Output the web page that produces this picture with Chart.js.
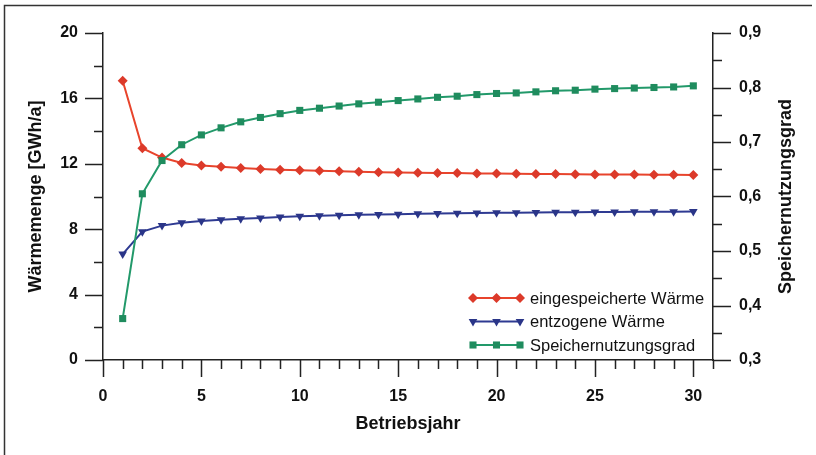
<!DOCTYPE html>
<html>
<head>
<meta charset="utf-8">
<script src="https://cdn.jsdelivr.net/npm/chart.js@4/dist/chart.umd.min.js"></script>
<style>
html,body{margin:0;padding:0;background:#fff;}
canvas{display:block;}
</style>
</head>
<body>
<canvas id="c" width="816" height="455"></canvas>
<script>
// ---- data ----
const years = [1,2,3,4,5,6,7,8,9,10,11,12,13,14,15,16,17,18,19,20,21,22,23,24,25,26,27,28,29,30];
const eingespeicherteWaerme = [17.08,12.95,12.38,12.05,11.90,11.82,11.75,11.68,11.63,11.60,11.57,11.54,11.51,11.49,11.47,11.45,11.44,11.43,11.41,11.40,11.39,11.38,11.37,11.36,11.35,11.35,11.34,11.33,11.33,11.31];
const entzogeneWaerme = [6.48,7.85,8.22,8.40,8.50,8.58,8.64,8.69,8.74,8.79,8.82,8.85,8.88,8.90,8.92,8.94,8.96,8.97,8.99,9.00,9.01,9.02,9.03,9.04,9.05,9.05,9.06,9.07,9.07,9.08];
const speichernutzungsgrad = [0.376,0.605,0.666,0.695,0.713,0.726,0.737,0.745,0.752,0.758,0.762,0.766,0.770,0.773,0.776,0.779,0.782,0.784,0.787,0.789,0.790,0.792,0.794,0.795,0.797,0.798,0.799,0.800,0.801,0.803];

const seriesNames = ['eingespeicherte Wärme','entzogene Wärme','Speichernutzungsgrad'];
const xTickLabels = ['0','5','10','15','20','25','30'];
const yLeftTickLabels = ['0','4','8','12','16','20'];
const yRightTickLabels = ['0,3','0,4','0,5','0,6','0,7','0,8','0,9'];
const xTitle = 'Betriebsjahr';
const yLeftTitle = 'Wärmemenge [GWh/a]';
const yRightTitle = 'Speichernutzungsgrad';

const RED = '#e8442c', RED_PT = '#dc3a2a';
const BLUE = '#2e3a92', BLUE_PT = '#2a3588';
const GREEN = '#22996a', GREEN_PT = '#1f8c5e';
const AXIS = '#222222';
const TICKFONT = {family: "'Liberation Sans', Arial, sans-serif", size: 16, weight: 'bold'};

function pts(arr){ return years.map((x,i)=>({x:x, y:arr[i]})); }

const near = (a,b)=>Math.abs(a-b)<1e-6;

const extras = {
  id: 'extras',
  afterDraw(chart){
    const ctx = chart.ctx;
    const ca = chart.chartArea;
    const sx = chart.scales.x, sl = chart.scales.y, sr = chart.scales.y1;
    ctx.save();
    // frame
    ctx.strokeStyle = '#333';
    ctx.lineWidth = 1.5;
    ctx.beginPath();
    ctx.moveTo(4.5, 455);
    ctx.lineTo(4.5, 5.5);
    ctx.lineTo(812, 5.5);
    ctx.stroke();
    // tick marks
    ctx.strokeStyle = AXIS;
    ctx.lineWidth = 1.5;
    ctx.beginPath();
    sx.ticks.forEach(t=>{
      const p = Math.round(sx.getPixelForValue(t.value)) + 0.5;
      const len = (t.value % 5 === 0) ? 17 : 9;
      ctx.moveTo(p, ca.bottom); ctx.lineTo(p, ca.bottom + len);
    });
    sl.ticks.forEach(t=>{
      const p = Math.round(sl.getPixelForValue(t.value)) + 0.5;
      const len = (t.value % 4 === 0) ? 18 : 9;
      ctx.moveTo(ca.left, p); ctx.lineTo(ca.left - len, p);
    });
    sr.ticks.forEach(t=>{
      const p = Math.round(sr.getPixelForValue(t.value)) + 0.5;
      const v10 = t.value * 10;
      const len = near(v10, Math.round(v10)) ? 18 : 9;
      ctx.moveTo(ca.right, p); ctx.lineTo(ca.right + len, p);
    });
    ctx.stroke();

    // axis titles
    ctx.fillStyle = '#111';
    ctx.font = "bold 18px 'Liberation Sans', Arial, sans-serif";
    ctx.textAlign = 'center';
    ctx.textBaseline = 'middle';
    ctx.fillText(xTitle, (ca.left + ca.right)/2, 424);
    ctx.save();
    ctx.translate(36, (ca.top + ca.bottom)/2);
    ctx.rotate(-Math.PI/2);
    ctx.fillText(yLeftTitle, 0, 0);
    ctx.restore();
    ctx.save();
    ctx.translate(786, (ca.top + ca.bottom)/2);
    ctx.rotate(-Math.PI/2);
    ctx.fillText(yRightTitle, 0, 0);
    ctx.restore();

    // legend
    const rows = [298, 321.5, 345];
    const x0 = 473, x1 = 520;
    ctx.font = "16.5px 'Liberation Sans', Arial, sans-serif";
    ctx.textAlign = 'left';
    ctx.textBaseline = 'middle';
    chart.data.datasets.forEach((ds, i)=>{
      const y = rows[i];
      ctx.strokeStyle = ds.borderColor;
      ctx.lineWidth = ds.borderWidth;
      ctx.beginPath(); ctx.moveTo(x0, y); ctx.lineTo(x1, y); ctx.stroke();
      [x0, (x0+x1)/2, x1].forEach(px=>{
        ctx.fillStyle = ds.pointBackgroundColor;
        ctx.strokeStyle = ds.pointBackgroundColor;
        Chart.helpers.drawPoint(ctx, {
          pointStyle: ds.pointStyle, radius: ds.pointRadius, rotation: ds.pointRotation || 0, borderWidth: 0
        }, px, y);
      });
      ctx.fillStyle = '#111';
      ctx.fillText(ds.label, 530, y + 1);
    });
    ctx.restore();
  }
};

new Chart(document.getElementById('c'), {
  type: 'line',
  data: {
    datasets: [
      {label: seriesNames[0], data: pts(eingespeicherteWaerme), yAxisID: 'y',
       borderColor: RED, borderWidth: 2, pointStyle: 'rectRot', pointRadius: 5,
       pointBackgroundColor: RED_PT, pointBorderColor: RED_PT, pointBorderWidth: 0, order: 2},
      {label: seriesNames[1], data: pts(entzogeneWaerme), yAxisID: 'y',
       borderColor: BLUE, borderWidth: 2, pointStyle: 'triangle', pointRotation: 180, pointRadius: 5,
       pointBackgroundColor: BLUE_PT, pointBorderColor: BLUE_PT, pointBorderWidth: 0, order: 3},
      {label: seriesNames[2], data: pts(speichernutzungsgrad), yAxisID: 'y1',
       borderColor: GREEN, borderWidth: 2, pointStyle: 'rect', pointRadius: 5,
       pointBackgroundColor: GREEN_PT, pointBorderColor: GREEN_PT, pointBorderWidth: 0, order: 1}
    ]
  },
  options: {
    responsive: false,
    animation: false,
    devicePixelRatio: 1,
    layout: {padding: {top: 33, left: 0, right: 0, bottom: 0}},
    plugins: {legend: {display: false}, tooltip: {enabled: false}},
    elements: {line: {tension: 0}},
    scales: {
      x: {
        type: 'linear', min: 0, max: 31,
        afterFit(s){ s.height = 95; },
        grid: {display: true, drawOnChartArea: false, drawTicks: true, tickLength: 17, color: 'rgba(0,0,0,0)'},
        border: {display: true, color: AXIS, width: 1.5},
        ticks: {stepSize: 1, autoSkip: false, maxRotation: 0, padding: 10, color: '#111', font: TICKFONT,
          callback: v => (v % 5 === 0 && v <= 30) ? xTickLabels[v/5] : ''}
      },
      y: {
        type: 'linear', position: 'left', min: 0, max: 20,
        afterFit(s){ s.width = 103; },
        grid: {display: true, drawOnChartArea: false, drawTicks: true, tickLength: 18, color: 'rgba(0,0,0,0)'},
        border: {display: true, color: AXIS, width: 1.5},
        ticks: {stepSize: 2, autoSkip: false, padding: 7, color: '#111', font: TICKFONT,
          callback: v => (v % 4 === 0) ? yLeftTickLabels[v/4] : ''}
      },
      y1: {
        type: 'linear', position: 'right', min: 0.3, max: 0.9,
        afterFit(s){ s.width = 103; },
        grid: {display: true, drawOnChartArea: false, drawTicks: true, tickLength: 18, color: 'rgba(0,0,0,0)'},
        border: {display: true, color: AXIS, width: 1.5},
        ticks: {stepSize: 0.05, autoSkip: false, padding: 8, color: '#111', font: TICKFONT,
          callback: v => { const k = Math.round((v - 0.3) * 10); return near((v-0.3)*10, k) ? yRightTickLabels[k] : ''; }}
      }
    }
  },
  plugins: [extras]
});
</script>
</body>
</html>
